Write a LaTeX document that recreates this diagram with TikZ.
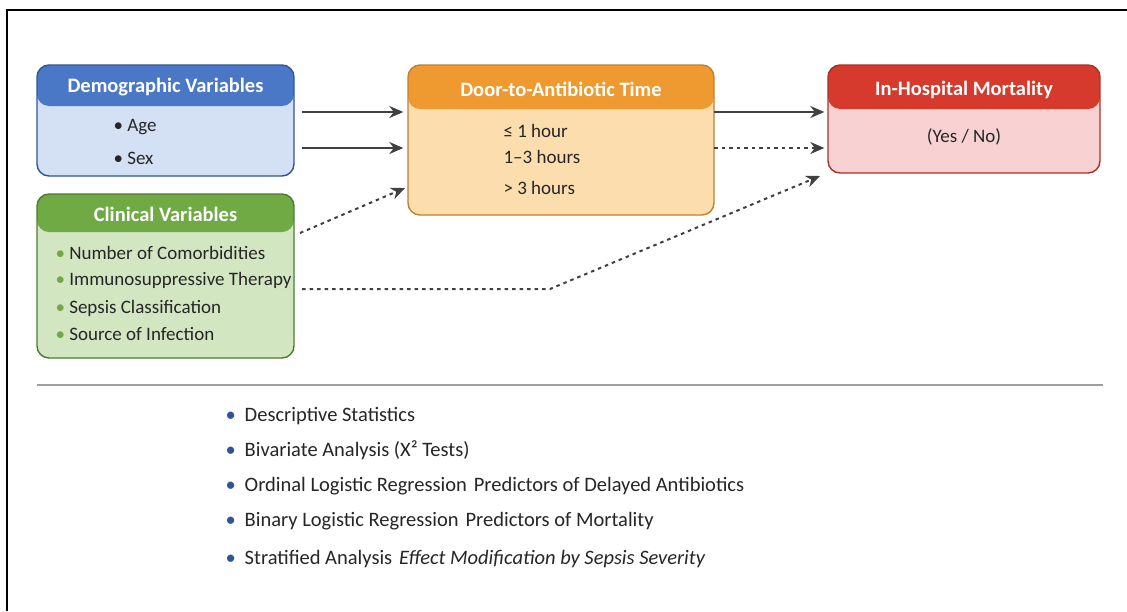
\documentclass[tikz,border=0pt]{standalone}
\usepackage{fontspec}
\setmainfont{Carlito}
\usetikzlibrary{arrows.meta,calc}
\definecolor{bluehd}{HTML}{4A78C6}
\definecolor{bluebd}{HTML}{D4E0F4}
\definecolor{bluedk}{HTML}{2F5597}
\definecolor{greenhd}{HTML}{6FAA45}
\definecolor{greenbd}{HTML}{D3E6C2}
\definecolor{greendk}{HTML}{4E7A30}
\definecolor{orhd}{HTML}{EE9A30}
\definecolor{orbd}{HTML}{FCDDAE}
\definecolor{ordk}{HTML}{C08030}
\definecolor{redhd}{HTML}{D63A2C}
\definecolor{redbd}{HTML}{F8D2D2}
\definecolor{reddk}{HTML}{A83226}
\definecolor{arr}{HTML}{404040}
\definecolor{txt}{HTML}{262626}
\tikzset{
  box/.style args={#1/#2/#3/#4}{draw=#3, line width=1.4pt, fill=#2, rounded corners=12pt,
    path picture={\fill[#1] (path picture bounding box.north west) rectangle ([yshift=-#4]path picture bounding box.north east);}},
  hdr/.style={text=white, font=\bfseries\fontsize{20.5}{24}\selectfont, anchor=center},
  itm/.style={text=txt, font=\fontsize{19}{22}\selectfont, anchor=west},
  lst/.style={text=txt, font=\fontsize{20.5}{24}\selectfont, anchor=west},
  solidarr/.style={draw=arr, line width=2pt, -{Stealth[length=14pt,width=12pt]}},
  dasharr/.style={draw=arr, line width=2pt, dash pattern=on 3.5pt off 4pt, -{Stealth[length=14pt,width=12pt]}},
}
\begin{document}
\begin{tikzpicture}[x=1pt,y=-1pt]
\useasboundingbox (0,0) rectangle (1127,611);
\fill[white] (0,0) rectangle (1127,611);
\draw[black, line width=2pt] (7,611) -- (7,10) -- (1127,10);

% boxes
\node[box=bluehd/bluebd/bluedk/41pt, minimum width=257pt, minimum height=111pt] (demo) at (165.5,120.5) {};
\node[box=greenhd/greenbd/greendk/38pt, minimum width=257pt, minimum height=164pt] (clin) at (165.5,276) {};
\node[box=orhd/orbd/ordk/44pt, minimum width=306pt, minimum height=150pt] (door) at (561,140) {};
\node[box=redhd/redbd/reddk/44pt, minimum width=272pt, minimum height=108pt] (mort) at (964,119) {};

% headers
\node[hdr] (demoh) at (165.5,87) {Demographic Variables};
\node[hdr] (clinh) at (165.5,214) {Clinical Variables};
\node[hdr] (doorh) at (561,89) {Door-to-Antibiotic Time};
\node[hdr] (morth) at (964,90) {In-Hospital Mortality};

% demo items
\node[itm] (d1) at (110,127) {\textbullet\ Age};
\node[itm] (d2) at (110,158) {\textbullet\ Sex};
% clinical items
\node[itm] (c1) at (52,253) {{\color{greenhd}\textbullet}\ Number of Comorbidities};
\node[itm] (c2) at (52,280) {{\color{greenhd}\textbullet}\ Immunosuppressive Therapy};
\node[itm] (c3) at (52,308) {{\color{greenhd}\textbullet}\ Sepsis Classification};
\node[itm] (c4) at (52,334) {{\color{greenhd}\textbullet}\ Source of Infection};
% door items
\node[itm] (t1) at (500,131) {≤ 1 hour};
\node[itm] (t2) at (500,157) {1–3 hours};
\node[itm] (t3) at (500,188) {> 3 hours};
% mortality
\node[itm, anchor=center] (m1) at (964,137) {(Yes / No)};

% connectors
\coordinate (s1) at (302,112);
\coordinate (s2) at (302,148);
\coordinate (s3) at (300,233);
\coordinate (s4) at (714,112);
\coordinate (s5) at (714,148);
\coordinate (s6) at (302,289);
\coordinate (k6) at (550,289);
\coordinate (e3) at (405,188);
\coordinate (e6) at (820,176);
\draw[solidarr] (s1) -- ([xshift=-4pt]s1 -| door.west);
\draw[solidarr] (s2) -- ([xshift=-4pt]s2 -| door.west);
\draw[dasharr] (s3) -- (e3);
\draw[solidarr] (s4) -- ([xshift=-3pt]s4 -| mort.west);
\draw[dasharr] (s5) -- ([xshift=-3pt]s5 -| mort.west);
\draw[dasharr] (s6) -- (k6) -- (e6);

% separator
\coordinate (l1) at (37,385);
\coordinate (l2) at (1103,385);
\draw[gray!75, line width=1.3pt] (l1) -- (l2);

% list
\node[lst] (a1) at (222,416) {{\color{bluedk}\textbullet}\hspace{9pt}Descriptive Statistics};
\node[lst] (a2) at (222,450) {{\color{bluedk}\textbullet}\hspace{9pt}Bivariate Analysis (Χ² Tests)};
\node[lst] (a3) at (222,486) {{\color{bluedk}\textbullet}\hspace{9pt}Ordinal Logistic Regression\hspace{7pt}Predictors of Delayed Antibiotics};
\node[lst] (a4) at (222,521) {{\color{bluedk}\textbullet}\hspace{9pt}Binary Logistic Regression\hspace{7pt}Predictors of Mortality};
\node[lst] (a5) at (222,559) {{\color{bluedk}\textbullet}\hspace{9pt}Stratified Analysis\hspace{7pt}\textit{Effect Modification by Sepsis Severity}};
\end{tikzpicture}
\end{document}
